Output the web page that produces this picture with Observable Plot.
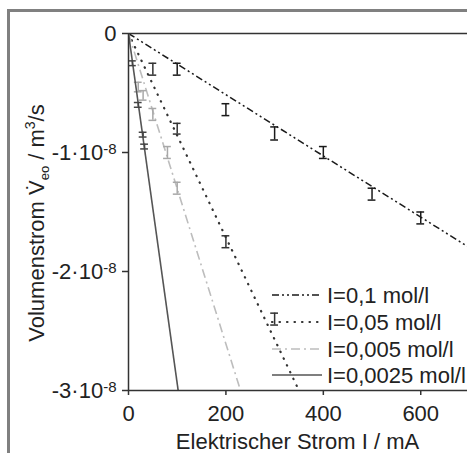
<!DOCTYPE html>
<html><head><meta charset="utf-8">
<script src="https://cdn.jsdelivr.net/npm/d3@7"></script>
<script src="https://cdn.jsdelivr.net/npm/@observablehq/plot@0.6"></script>
<style>body{margin:0;background:#fff}#c{position:relative;width:467px;height:457px;overflow:hidden}</style>
</head><body><div id="c"></div>
<script>
// Data (y values in units of 1e-8 m^3/s, x in mA)
const xTicks = [0, 200, 400, 600];
const yTicks = [0, -1, -2, -3];
const seriesNames = ["I=0,1 mol/l", "I=0,05 mol/l", "I=0,005 mol/l", "I=0,0025 mol/l"];
// straight fit lines from origin to end point
const lineEndX = [700, 350, 230, 102];
const lineEndY = [-1.8, -3, -3, -3];
// measured points with error bars
const s1I = [100, 200, 300, 400, 500, 600];
const s1V = [-0.30, -0.64, -0.84, -1.00, -1.35, -1.55];
const s1E = [0.05, 0.05, 0.055, 0.05, 0.05, 0.05];
const s2I = [50, 100, 200, 300];
const s2V = [-0.30, -0.80, -1.75, -2.40];
const s2E = [0.05, 0.045, 0.05, 0.05];
const s3I = [20, 30, 50, 80, 100];
const s3V = [-0.45, -0.52, -0.68, -1.00, -1.30];
const s3E = [0.04, 0.04, 0.05, 0.05, 0.05];
const s4I = [8, 20, 30, 33];
const s4V = [-0.25, -0.60, -0.85, -0.95];
const s4E = [0.02, 0.02, 0.02, 0.02];

const styles = [
  {stroke: "#1a1a1a", dash: "7,3,2,3,2,3", width: 1.5, cap: "butt", bar: "#1a1a1a"},
  {stroke: "#333333", dash: "0.5,7", width: 2.2, cap: "round", bar: "#333333"},
  {stroke: "#bdbdbd", dash: "9,4,2,4", width: 1.6, cap: "butt", bar: "#a8a8a8"},
  {stroke: "#555555", dash: null, width: 1.6, cap: "butt", bar: "#444444"}
];
const pts = [[s1I, s1V, s1E], [s2I, s2V, s2E], [s3I, s3V, s3E], [s4I, s4V, s4E]];

const marks = [];
seriesNames.forEach((name, i) => {
  const st = styles[i];
  const line = [{x: 0, y: 0}, {x: lineEndX[i], y: lineEndY[i]}];
  marks.push(Plot.line(line, {x: "x", y: "y", stroke: st.stroke, strokeWidth: st.width,
    strokeDasharray: st.dash || undefined, strokeLinecap: st.cap, clip: true}));
  const [I, V, E] = pts[i];
  const d = I.map((x, k) => ({x, lo: V[k] - E[k], hi: V[k] + E[k]}));
  marks.push(Plot.ruleX(d, {x: "x", y1: "lo", y2: "hi", stroke: st.bar, strokeWidth: 1.5}));
  marks.push(Plot.ruleY(d, {y: "lo", x1: r => r.x - 8, x2: r => r.x + 8, stroke: st.bar, strokeWidth: 1.5}));
  marks.push(Plot.ruleY(d, {y: "hi", x1: r => r.x - 8, x2: r => r.x + 8, stroke: st.bar, strokeWidth: 1.5}));
});

const chart = Plot.plot({
  width: 467, height: 457,
  marginLeft: 128, marginTop: 33, marginRight: 0, marginBottom: 67,
  x: {domain: [0, 696], ticks: xTicks},
  y: {domain: [-3, 0], ticks: yTicks},
  style: {fontFamily: "'Liberation Sans', Arial, sans-serif", fontSize: "22px", color: "#333", background: "#fff", overflow: "visible"},
  marks: [
    Plot.axisX({ticks: xTicks, tickSize: 5, tickPadding: 10, label: null, strokeWidth: 1.5, fill: "#222"}),
    Plot.axisY({ticks: yTicks, tickSize: 6, tickPadding: 6, label: null, strokeWidth: 1.5, fill: "#222",
      tickFormat: v => v === 0 ? "0" : `${v}·10`}),
    ...marks,
    Plot.ruleY([0, -3], {stroke: "#333", strokeWidth: 1.5}),
    Plot.ruleX([0], {stroke: "#333", strokeWidth: 1.5})
  ]
});
document.getElementById("c").appendChild(chart);

const svg = d3.select(chart);
// superscript exponents on y tick labels
svg.selectAll('g[aria-label="y-axis tick label"] text').each(function() {
  const t = d3.select(this);
  if (t.text() !== "0") {
    t.append("tspan").attr("dy", -6).attr("font-size", "15px").text("-8");
  }
});
// frame
svg.append("line").attr("x1", 7).attr("x2", 467).attr("y1", 10.5).attr("y2", 10.5)
  .attr("stroke", "#808080").attr("stroke-width", 3);
svg.append("line").attr("x1", 8.5).attr("x2", 8.5).attr("y1", 9).attr("y2", 453)
  .attr("stroke", "#808080").attr("stroke-width", 3);
// x title
svg.append("text").attr("x", 297.5).attr("y", 449).attr("text-anchor", "middle")
  .attr("font-size", 22).attr("fill", "#222").text("Elektrischer Strom I / mA");
// y title
const yt = svg.append("text").attr("transform", "translate(44,223) rotate(-90)")
  .attr("text-anchor", "middle").attr("font-size", 22).attr("fill", "#222");
yt.append("tspan").text("Volumenstrom V\u0307");
yt.append("tspan").attr("font-size", 13).attr("dy", 5).text("eo");
yt.append("tspan").attr("dy", -5).text(" / m");
yt.append("tspan").attr("font-size", 14).attr("dy", -9).text("3");
yt.append("tspan").attr("dy", 9).text("/s");
// legend
const lg = svg.append("g");
const rowY = [295, 322, 349, 375];
seriesNames.forEach((name, i) => {
  const st = styles[i];
  const ln = lg.append("line").attr("x1", 272).attr("x2", 322).attr("y1", rowY[i]).attr("y2", rowY[i])
    .attr("stroke", st.stroke).attr("stroke-width", st.width).attr("stroke-linecap", st.cap);
  if (st.dash) ln.attr("stroke-dasharray", st.dash);
  lg.append("text").attr("x", 327).attr("y", rowY[i]).attr("dy", "0.35em")
    .attr("text-anchor", "start").attr("font-size", 22).attr("fill", "#222").text(name);
});
</script></body></html>
